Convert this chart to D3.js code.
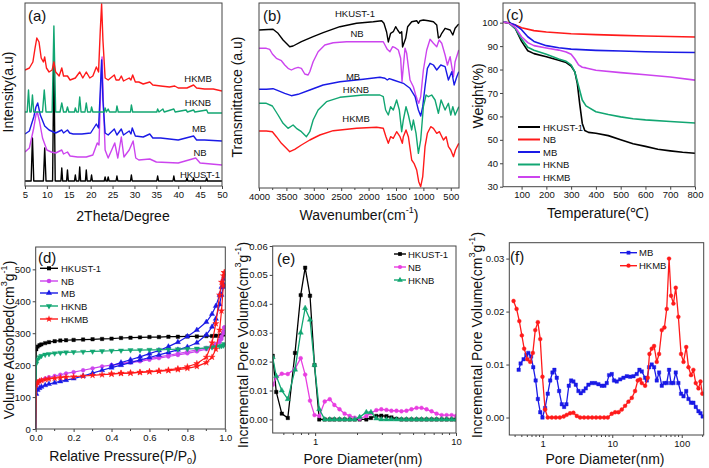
<!DOCTYPE html>
<html><head><meta charset="utf-8">
<script src="https://cdn.jsdelivr.net/npm/d3@7"></script>
<style>
body{margin:0;background:#fff}
text{font-family:"Liberation Sans",Arial,sans-serif;fill:#111}
</style></head>
<body><svg id="c" width="709" height="468"></svg>
<script>
// ---------------- DATA ----------------
// (a) XRD: [2theta, intensity a.u.]
const xrdHKMB=[[5,113],[6,115],[6.8,121],[7.3,135],[7.7,145],[8.2,141],[8.7,125],[9.2,121],[9.5,126],[9.9,115],[10.5,111],[11.2,113],[11.6,121],[12,111],[12.8,107],[13.4,115],[13.8,107],[14.7,107],[15.3,103],[16.5,105],[17.5,111],[18.2,105],[19,111],[19.8,105],[20.5,107],[21.3,116],[21.8,111],[22.2,153],[22.5,179],[22.8,143],[23.3,105],[24,103],[25.4,108],[25.8,103],[26.5,103],[27,107],[27.5,102],[28.8,105],[29.2,103],[29.6,108],[30.2,101],[31,101],[32,99],[33.5,101],[34.2,98],[36,97],[38,96],[39.2,97],[40,95],[42,95],[43.5,98],[44.2,95],[46,94],[48,94],[50,92]];
const xrdHKNB=[[5,71],[5.5,71],[5.8,93],[6.1,71],[6.4,71],[6.7,88],[7,71],[9,71],[9.4,93],[9.8,71],[11.2,71],[11.6,157],[12,71],[13,71],[13.4,80],[13.8,71],[14.4,71],[14.7,76],[15,71],[16.3,71],[16.5,75],[16.8,71],[17.2,71],[17.5,86],[17.8,71],[18.7,71],[19,80],[19.3,71],[20,71],[20.2,76],[20.5,71],[23.1,71],[23.3,75],[23.6,71],[24,74],[24.3,71],[25.8,71],[26,77],[26.3,71],[29.1,71],[29.3,78],[29.6,71],[35.1,71],[35.3,74],[35.6,71],[36.5,74],[36.8,71],[39,74],[39.3,71],[41.8,73],[42.1,71],[43.5,73],[43.8,71],[46.5,73],[46.8,70],[50,70]];
const xrdMB=[[5,49],[6,52],[7,66],[7.5,76],[7.9,80],[8.5,68],[9.5,57],[10.5,53],[12,50],[13.4,53],[13.8,50],[14.7,53],[15.2,50],[16,49],[18,49],[20,50],[21.3,59],[21.8,55],[22.2,93],[22.5,123],[22.8,83],[23.3,50],[24,48],[25.4,54],[26,48],[27,54],[27.5,48],[28.8,52],[29.2,49],[29.5,55],[30.2,47],[32,46],[33.5,49],[34.2,45],[36,45],[38,44],[40,43],[43.5,47],[44.2,43],[46,43],[50,42]];
const xrdNB=[[5,31],[6,35],[7,55],[7.5,68],[7.8,71],[8.3,62],[9,45],[10,33],[11,31],[12,30],[13.4,33],[13.8,29],[14.7,31],[15.3,27],[17,26],[19,26],[20.5,28],[21.5,40],[21.9,38],[22.3,95],[22.6,126],[22.9,80],[23.3,33],[24,25],[25.5,40],[26.2,25],[27,46],[27.6,26],[28.8,33],[29.7,42],[30.3,25],[31,23],[33.5,24],[35,21],[40,20],[44,25],[45,20],[50,18]];
const xrdHK=[[5,2],[6.4,2],[6.7,45],[7,2],[9.2,2],[9.5,35],[9.8,2],[11.3,2],[11.6,123],[11.9,2],[13.2,2],[13.4,15],[13.6,2],[14.5,2],[14.7,13],[14.9,2],[16.3,2],[16.5,8],[16.7,2],[17.3,2],[17.5,16],[17.7,2],[18.8,2],[19,13],[19.2,2],[20,2],[20.2,8],[20.4,2],[23.1,2],[23.3,6],[23.5,2],[23.8,2],[24,6],[24.2,2],[25.8,2],[26,7],[26.2,2],[29.1,2],[29.3,8],[29.5,2],[35.1,2],[35.3,7],[35.5,2],[38.8,2],[39,7],[39.2,2],[41.8,2],[42,5],[42.2,2],[43.3,2],[43.5,5],[43.7,2],[46.3,2],[46.5,5],[46.7,2],[50,2]];

// (b) FTIR: [wavenumber, transmittance a.u.]
const irHK=[[4000,158],[3744,158.7],[3652,154.7],[3561,148],[3439,141.3],[3378,142],[3226,146.3],[3012,151.3],[2829,155.3],[2524,161.3],[2220,164.7],[1915,166.3],[1762,167.3],[1720,164.7],[1671,156],[1640,146],[1598,154.7],[1549,156.3],[1506,161.3],[1470,158],[1427,154.7],[1396,156.3],[1380,141],[1323,149.7],[1287,161.3],[1213,166.3],[1122,167.3],[1091,164.7],[1061,167.3],[1000,168],[909,167.3],[817,166.3],[756,163],[726,150],[695,151.3],[665,154.7],[604,159.7],[512,158],[463,153],[421,159.7],[354,164]];
const irNB=[[4000,139.7],[3866,139.7],[3805,138.7],[3756,134],[3683,129.7],[3591,127.3],[3530,123],[3470,119.7],[3409,118],[3348,119.7],[3287,120.7],[3226,119.7],[3165,114],[3104,113],[3073,116.3],[3012,126.3],[2921,136.3],[2799,143],[2646,145.3],[2402,146.3],[2098,146.3],[1854,146.3],[1732,146.3],[1701,143],[1659,138.7],[1610,136.3],[1561,141.3],[1518,140.3],[1457,138],[1415,129.7],[1390,106.3],[1366,121.3],[1335,139.7],[1305,134.7],[1244,108],[1183,101.3],[1140,93],[1110,88],[1085,84.7],[1049,91.3],[1000,118],[939,138],[878,148.7],[817,144.7],[756,141.3],[713,148],[665,144.7],[604,133],[561,123],[512,131.3],[482,121.3],[451,111.3],[421,126.3],[354,138]];
const irMB=[[4000,98.7],[3866,98.7],[3744,99.3],[3652,97.3],[3530,94.7],[3409,92.3],[3287,93.7],[3073,98],[2829,103],[2524,106.3],[2098,108.7],[1793,110.7],[1701,109.7],[1659,108],[1622,109.3],[1549,108],[1366,104.7],[1244,99.7],[1152,91.3],[1091,78],[1049,72],[1012,81.3],[970,101.3],[927,119.7],[878,124.7],[817,123],[756,118],[683,123],[604,121.3],[543,108],[482,116.3],[439,103],[390,111.3],[354,116.3]];
const irHKNB=[[4000,84.7],[3866,84.7],[3756,82],[3652,73],[3561,64.7],[3470,59.7],[3378,63],[3317,59.7],[3226,56.3],[3134,51.3],[3073,56.3],[3012,68],[2921,78],[2768,86.3],[2524,90.7],[2098,93],[1793,93],[1732,91.3],[1689,78],[1640,73],[1598,81.3],[1549,78],[1488,88],[1439,78],[1396,56.3],[1366,68],[1317,81.3],[1274,73],[1213,58],[1183,68],[1134,54.7],[1091,34.7],[1049,48],[1000,81.3],[951,93],[909,91.3],[848,93],[787,88],[726,74.7],[677,88],[604,78],[543,84.7],[500,73],[463,81.3],[421,73],[354,81.3]];
const irHKMB=[[4000,57],[3866,57],[3756,56.3],[3683,51.3],[3591,44.7],[3500,39.7],[3439,36.3],[3348,38.7],[3226,43],[3073,48],[2890,53],[2646,57.3],[2220,59.7],[1854,60.7],[1732,59.7],[1683,51.3],[1640,44.7],[1598,51.3],[1549,49.7],[1488,56.3],[1427,51.3],[1384,44.7],[1366,51.3],[1317,58],[1274,51.3],[1213,28],[1171,24.7],[1122,18],[1085,6.3],[1049,1.3],[1012,11.3],[970,41.3],[927,54.7],[866,61.3],[817,59.7],[756,54.7],[707,56.3],[634,48],[585,51.3],[543,41.3],[500,38],[451,31.3],[415,38],[354,44.7]];

// (c) TGA: temperature and weight (%)
const tgaT_HK=[25,50,75,100,125,150,200,250,280,300,315,325,335,345,355,370,400,450,500,550,600,650,700,750,800];
const tgaW_HK=[100.3,99.8,97.5,92,88,86.8,85.5,84,83,81.5,79,74,65,57,54,53.2,52.8,51.8,50,48.3,47.2,46,45.3,44.7,44.3];
const tgaT_NB=[25,50,75,100,150,200,300,400,500,600,700,800];
const tgaW_NB=[100.2,99.8,99,97.8,96.6,96,95.3,94.9,94.6,94.3,94.1,93.9];
const tgaT_MB=[25,50,75,100,125,150,200,250,300,400,500,600,700,800];
const tgaW_MB=[100.3,100,99,97,94,92,90.2,89.3,88.7,88.2,87.9,87.6,87.4,87.3];
const tgaT_HKNB=[25,50,75,100,125,150,200,250,280,300,315,330,345,360,400,450,500,550,600,700,800];
const tgaW_HKNB=[100.3,99.8,97.5,93,89.5,88.2,86.5,84.5,83.5,82,79,73,67,64.5,62,60.8,59.8,59,58.5,57.8,57.2];
const tgaT_HKMB=[25,50,75,100,125,150,200,250,280,300,315,330,345,360,400,500,600,700,800];
const tgaW_HKMB=[100.3,99.8,98,94,91.5,90.2,89.2,88.3,87.5,86.5,84.5,82,81,80.7,79.7,78.7,77.8,76.8,75.5];

// (d) N2 isotherms: relative pressure and volume adsorbed
const pAds=[0,0.003,0.01,0.02,0.03,0.05,0.07,0.1,0.13,0.16,0.2,0.25,0.3,0.35,0.4,0.45,0.5,0.55,0.6,0.65,0.7,0.75,0.8,0.85,0.9,0.93,0.95,0.97,0.98,0.99,0.995];
const adsHK=[0,250,258,262,265,269,272,275,277,278,279,280,281,282,283,285,286,287,288,288,289,289,290,290,291,291,292,292,293,296,305];
const adsNB=[0,138,146,150,153,158,162,166,170,174,178,184,190,196,200,204,208,212,217,222,227,232,237,243,250,256,262,272,282,300,318];
const adsMB=[0,110,122,128,132,137,141,145,149,153,158,166,175,184,192,200,208,216,224,232,240,248,257,270,295,320,345,390,420,445,450];
const adsHKNB=[0,205,218,225,229,233,235,237,239,240,241,242,243,244,245,246,247,247,248,248,249,250,251,252,254,256,257,259,260,262,266];
const adsHKMB=[0,138,146,150,152,155,157,159,161,163,164,166,168,170,172,174,175,177,179,181,183,186,190,196,208,225,250,310,370,450,490];
const pDes=[0.995,0.99,0.98,0.97,0.95,0.93,0.9,0.85,0.8,0.75,0.7,0.65,0.6,0.55,0.5,0.45,0.4];
const desNB=[318,305,290,278,266,260,254,248,242,236,231,226,221,215,210,205,200];
const desMB=[480,470,445,420,385,360,335,310,290,272,258,246,236,226,217,208,198];
const desHKMB=[490,480,460,420,330,270,225,205,195,189,185,182,180,178,176,175,173];

// (e) pore size distribution (nm, cm3/g)
const poreE=[0.50,0.53,0.58,0.64,0.72,0.79,0.85,0.92,0.99,1.07,1.17,1.27,1.37,1.49,1.62,1.76,1.91,2.07,2.31,2.49,2.72,2.95,3.21,3.48,3.78,4.10,4.45,4.83,5.25,5.69,6.18,6.71,7.28,7.91,8.58,9.31,10.0];
const psdHK=[.0220,.0095,.0020,.0005,.0230,.0430,.0525,.0428,.0188,0,0,0,0,0,0,0,0,0,0,.0005,.0012,.0013,.0011,.0007,.0002,0,0,0,0,0,0,0,0,0,0,0,0];
const psdNB=[.0120,.0145,.0158,.0157,.0175,.0212,.0155,.0065,.0015,.0012,.0062,.0070,.0050,.0035,.0020,.0012,.0006,.0002,.0012,.0022,.0032,.0035,.0033,.0030,.0030,.0028,.0030,.0035,.0040,.0040,.0035,.0028,.0020,.0015,.0015,.0015,.0012];
const psdHKNB=[.0215,.0150,.0100,.0070,.0172,.0300,.0385,.0345,.0188,.0035,0,0,0,0,0,0,0,.0008,.0025,.0025,.0003,0,0,0,0,0,0,0,0,0,0,0,0,0,0,0,0];

// (f) pore size distribution (nm, cm3/g)
const poreMB=[0.45,0.48,0.53,0.58,0.62,0.68,0.73,0.79,0.85,0.92,0.99,1.08,1.18,1.28,1.38,1.47,1.59,1.72,1.88,2.03,2.19,2.37,2.56,2.76,2.99,3.26,3.52,3.85,4.16,4.54,5.07,5.66,6.32,7.06,7.71,8.33,9.0,9.84,10.6,11.6,13.0,14.5,16.2,18.1,20.2,22.5,24.6,26.6,29.7,31.4,33.9,37.0,40.0,43.7,47.2,51.6,56.3,60.8,65.7,70.2,75.9,82.0,89.5,97.8,106,116,125,136,147,159,174,186,200];
const psdMB=[.0090,.0102,.0110,.0118,.0122,.0115,.0095,.0070,.0035,.0010,.0000,.0018,.0045,.0070,.0085,.0090,.0075,.0050,.0025,.0020,.0025,.0060,.0070,.0068,.0062,.0050,.0046,.0050,.0055,.0062,.0065,.0065,.0063,.0060,.0060,.0065,.0080,.0082,.0070,.0068,.0072,.0075,.0078,.0077,.0078,.0082,.0090,.0087,.0075,.0070,.0095,.0100,.0095,.0070,.0085,.0060,.0065,.0065,.0090,.0065,.0065,.0085,.0065,.0045,.0040,.0050,.0035,.0028,.0028,.0020,.0012,.0008,.0002];
const poreHKMB=[0.38,0.42,0.46,0.50,0.54,0.60,0.66,0.72,0.78,0.85,0.92,0.99,1.08,1.18,1.35,1.54,1.76,2.0,2.21,2.47,2.76,3.09,3.45,3.93,4.49,5.13,5.85,6.68,7.63,8.62,9.84,11.0,12.3,13.7,15.3,17.1,19.1,21.3,23.3,25.2,26.6,29.7,32.4,34.3,37.0,40.0,43.7,47.2,51.6,56.3,60.8,65.7,70.2,75.9,82.0,89.5,97.8,106,116,125,136,147,159,174,186,198];
const psdHKMB=[.0220,.0205,.0182,.0155,.0130,.0110,.0105,.0122,.0165,.0180,.0148,.0077,.0015,0,0,0,0,.0002,.0005,.0008,.0009,.0003,0,0,0,0,0,0,0,0,.0007,.0010,.0010,.0015,.0022,.0030,.0037,.0050,.0070,.0072,.0065,.0060,.0075,.0120,.0130,.0135,.0105,.0120,.0165,.0170,.0205,.0300,.0230,.0215,.0245,.0190,.0120,.0105,.0133,.0095,.0080,.0090,.0065,.0055,.0068,.0045];

// tick labels
const ticksA=[5,10,15,20,25,30,35,40,45,50];
const ticksB=[4000,3500,3000,2500,2000,1500,1000,500];
const ticksCx=[100,200,300,400,500,600,700,800];
const ticksCy=[30,40,50,60,70,80,90,100];
const ticksDx=[0,0.2,0.4,0.6,0.8,1.0];
const ticksDy=[0,100,200,300,400,500];
const ticksEy=[0,0.01,0.02,0.03,0.04,0.05,0.06];
const ticksFy=[0,0.01,0.02,0.03];

// ---------------- DRAW ----------------
const C={black:"#000000",red:"#ff1a1a",blue:"#1a1ae6",green:"#12a672",mag:"#cc44ee",pink:"#e83ee0"};
const TF=9.5;
const svg=d3.select("#c");
let clipId=0;
function panel(x,y){
  const [x0,x1]=x.range(), [y1,y0]=y.range();
  const g=svg.append("g");
  const id="clip"+(clipId++);
  svg.append("clipPath").attr("id",id).append("rect").attr("x",x0).attr("y",y0).attr("width",x1-x0).attr("height",y1-y0);
  const plot=g.append("g").attr("clip-path","url(#"+id+")");
  return {g,plot,x0,x1,y0,y1};
}
function frameRect(p){
  p.g.append("rect").attr("x",p.x0).attr("y",p.y0).attr("width",p.x1-p.x0).attr("height",p.y1-p.y0)
   .attr("fill","none").attr("stroke","#444").attr("stroke-width",1);
}
function xAxis(p,x,ticks,fmt,minor){
  const a=d3.axisBottom(x).tickValues(ticks).tickSize(3).tickPadding(2).tickFormat(fmt);
  const ax=p.g.append("g").attr("transform","translate(0,"+p.y1+")").call(a);
  ax.select(".domain").remove();
  ax.selectAll("line").attr("stroke","#444");
  ax.selectAll("text").attr("font-size",TF).attr("fill","#111").attr("font-family","Liberation Sans, Arial, sans-serif");
  if(minor){
    p.g.append("g").selectAll("line").data(minor).join("line")
     .attr("x1",d=>x(d)).attr("x2",d=>x(d)).attr("y1",p.y1).attr("y2",p.y1+2).attr("stroke","#444");
  }
}
function yAxis(p,y,ticks,fmt){
  const a=d3.axisLeft(y).tickValues(ticks).tickSize(3).tickPadding(2).tickFormat(fmt);
  const ax=p.g.append("g").attr("transform","translate("+p.x0+",0)").call(a);
  ax.select(".domain").remove();
  ax.selectAll("line").attr("stroke","#444");
  ax.selectAll("text").attr("font-size",TF).attr("fill","#111").attr("font-family","Liberation Sans, Arial, sans-serif");
}
function title(x,y,parts,rot,size){
  const t=svg.append("text").attr("x",x).attr("y",y).attr("text-anchor","middle")
    .attr("dominant-baseline","central").attr("font-size",size||14);
  if(rot) t.attr("transform","rotate(-90,"+x+","+y+")");
  parts.forEach(pp=>{
    if(typeof pp==="string") t.append("tspan").text(pp);
    else t.append("tspan").attr("baseline-shift",pp.sup?"super":"sub").attr("font-size",(size||14)*0.65).text(pp.t);
  });
  return t;
}
function label(x,y,s,size,anchor){
  svg.append("text").attr("x",x).attr("y",y).attr("text-anchor",anchor||"middle").attr("dominant-baseline","central")
   .attr("font-size",size||10).text(s);
}
function drawLine(p,x,y,pts,color,w){
  p.plot.append("path").datum(pts).attr("fill","none").attr("stroke",color).attr("stroke-width",w||1.4)
   .attr("stroke-linejoin","round").attr("d",d3.line().x(d=>x(d[0])).y(d=>y(d[1])));
}
function drawMarkers(p,x,y,pts,color,sym,size,rot){
  p.plot.append("g").selectAll("path").data(pts).join("path")
   .attr("transform",d=>"translate("+x(d[0])+","+y(d[1])+")"+(rot?" rotate("+rot+")":""))
   .attr("d",d3.symbol().type(sym).size(size||12)).attr("fill",color).attr("stroke",color).attr("stroke-width",0.4);
}
const zip=(a,b)=>a.map((v,i)=>[v,b[i]]);

// ---- (a) ----
{
  const x=d3.scaleLinear().domain([5,50]).range([25,222]);
  const y=d3.scaleLinear().domain([-3,180]).range([186,3]);
  const p=panel(x,y);
  drawLine(p,x,y,xrdHK,C.black);
  drawLine(p,x,y,xrdNB,C.mag);
  drawLine(p,x,y,xrdMB,C.blue);
  drawLine(p,x,y,xrdHKNB,C.green);
  drawLine(p,x,y,xrdHKMB,C.red);
  frameRect(p);
  xAxis(p,x,ticksA,d3.format("d"),null);
  label(198,78,"HKMB",9.5); label(198,102,"HKNB",9.5); label(199,128,"MB",9.5); label(200,152,"NB",9.5); label(200,174,"HKUST-1",9.5);
  label(28,15,"(a)",15,"start");
  title(123,216,["2Theta/Degree"]);
  title(8,92,["Intensity(a.u)"],true);
}
// ---- (b) ----
{
  const x=d3.scaleLinear().domain([4000,350]).range([259,459]);
  const y=d3.scaleLinear().domain([0,185]).range([188,3]);
  const p=panel(x,y);
  drawLine(p,x,y,irHK,C.black);
  drawLine(p,x,y,irNB,C.mag);
  drawLine(p,x,y,irMB,C.blue);
  drawLine(p,x,y,irHKNB,C.green);
  drawLine(p,x,y,irHKMB,C.red);
  frameRect(p);
  xAxis(p,x,ticksB,d3.format("d"),[3750,3250,2750,2250,1750,1250,750]);
  label(355,13,"HKUST-1",9.5); label(357,33,"NB",9.5); label(353,76,"MB",9.5); label(356,89,"HKNB",9.5); label(356,118,"HKMB",9.5);
  label(263,15,"(b)",15,"start");
  title(359,215,["Wavenumber(cm",{t:"-1",sup:1},")"]);
  title(237,97,["Transmittance (a.u)"],true);
}
// ---- (c) ----
{
  const x=d3.scaleLinear().domain([25,800]).range([503,695]);
  const y=d3.scaleLinear().domain([30,108.4]).range([186.7,3]);
  const p=panel(x,y);
  const S=[[tgaT_HK,tgaW_HK,C.black,"HKUST-1"],[tgaT_NB,tgaW_NB,C.red,"NB"],[tgaT_MB,tgaW_MB,C.blue,"MB"],[tgaT_HKNB,tgaW_HKNB,C.green,"HKNB"],[tgaT_HKMB,tgaW_HKMB,C.mag,"HKMB"]];
  S.forEach(s=>drawLine(p,x,y,zip(s[0],s[1]),s[2],1.6));
  frameRect(p);
  xAxis(p,x,ticksCx,d3.format("d"),null);
  yAxis(p,y,ticksCy,d3.format("d"));
  const ly=[127,139.5,152,164.5,177];
  S.forEach((s,i)=>{svg.append("line").attr("x1",518).attr("x2",540).attr("y1",ly[i]).attr("y2",ly[i]).attr("stroke",s[2]).attr("stroke-width",2);
    label(543,ly[i],s[3],9.5,"start");});
  label(506,14,"(c)",15,"start");
  title(598,213,["Temperature(℃)"]);
  title(478,96,["Weight(%)"],true);
}
// ---- (d) ----
{
  const x=d3.scaleLinear().domain([0,1]).range([35.7,225.3]);
  const y=d3.scaleLinear().domain([0,570]).range([429,247]);
  const p=panel(x,y);
  const S=[[adsHK,null,C.black,d3.symbolSquare,"HKUST-1",0],[adsNB,desNB,C.mag,d3.symbolCircle,"NB",0],[adsMB,desMB,C.blue,d3.symbolTriangle,"MB",0],[adsHKNB,null,C.green,d3.symbolTriangle,"HKNB",180],[adsHKMB,desHKMB,C.red,d3.symbolStar,"HKMB",0]];
  S.forEach(s=>{
    const a=zip(pAds,s[0]);
    drawLine(p,x,y,a,s[2],1.2);
    drawMarkers(p,x,y,a.slice(1),s[2],s[3],12,s[5]);
    if(s[1]){const d=zip(pDes,s[1]); drawLine(p,x,y,d,s[2],1.2); drawMarkers(p,x,y,d,s[2],s[3],12,s[5]);}
  });
  frameRect(p);
  xAxis(p,x,ticksDx,d3.format(".1f"),[0.1,0.3,0.5,0.7,0.9]);
  yAxis(p,y,ticksDy,d3.format("d"));
  const ly=[268.3,281,293,306,319];
  S.forEach((s,i)=>{svg.append("line").attr("x1",40).attr("x2",58).attr("y1",ly[i]).attr("y2",ly[i]).attr("stroke",s[2]).attr("stroke-width",1.4);
    svg.append("path").attr("transform","translate(49,"+ly[i]+") rotate("+s[5]+")").attr("d",d3.symbol().type(s[3]).size(16)).attr("fill",s[2]);
    label(61,ly[i],s[4],9.5,"start");});
  label(38,257,"(d)",15,"start");
  title(123,456,["Relative Pressure(P/P",{t:"0",sup:0},")"]);
  title(9,340,["Volume Adsorbed(cm",{t:"3",sup:1},"g",{t:"-1",sup:1},")"],true);
}
// ---- (e) ----
{
  const x=d3.scaleLog().domain([0.5,10]).range([272.7,456]);
  const y=d3.scaleLinear().domain([-0.0047,0.06]).range([433,246]);
  const p=panel(x,y);
  const S=[[psdHK,C.black,d3.symbolSquare,"HKUST-1"],[psdNB,C.pink,d3.symbolCircle,"NB"],[psdHKNB,C.green,d3.symbolTriangle,"HKNB"]];
  S.forEach(s=>{const a=zip(poreE,s[0]); drawLine(p,x,y,a,s[1],1.3); drawMarkers(p,x,y,a,s[1],s[2],12);});
  frameRect(p);
  xAxis(p,x,[1,10],d3.format("d"),[0.6,0.7,0.8,0.9,2,3,4,5,6,7,8,9]);
  yAxis(p,y,ticksEy,d3.format(".2f"));
  const ly=[254,267,280];
  S.forEach((s,i)=>{svg.append("line").attr("x1",394).attr("x2",406).attr("y1",ly[i]).attr("y2",ly[i]).attr("stroke",s[1]).attr("stroke-width",1.4);
    svg.append("path").attr("transform","translate(400,"+ly[i]+")").attr("d",d3.symbol().type(s[2]).size(14)).attr("fill",s[1]);
    label(408,ly[i],s[3],9.5,"start");});
  label(277,258,"(e)",15,"start");
  title(363,459,["Pore Diameter(nm)"]);
  title(243,345,["Incremental Pore Volume(cm",{t:"3",sup:1},"g",{t:"-1",sup:1},")"],true);
}
// ---- (f) ----
{
  const x=d3.scaleLog().domain([0.33,207]).range([509.3,703.7]);
  const y=d3.scaleLinear().domain([-0.0033,0.033]).range([435,242.7]);
  const p=panel(x,y);
  const S=[[poreMB,psdMB,C.blue,d3.symbolSquare,"MB"],[poreHKMB,psdHKMB,C.red,d3.symbolCircle,"HKMB"]];
  S.forEach(s=>{const a=zip(s[0],s[1]); drawLine(p,x,y,a,s[2],1.3); drawMarkers(p,x,y,a,s[2],s[3],12);});
  frameRect(p);
  xAxis(p,x,[1,10,100],d3.format("d"),[0.4,0.5,0.6,0.7,0.8,0.9,2,3,4,5,6,7,8,9,20,30,40,50,60,70,80,90,200]);
  yAxis(p,y,ticksFy,d3.format(".2f"));
  const ly=[252.7,265.7];
  S.forEach((s,i)=>{svg.append("line").attr("x1",620).attr("x2",637).attr("y1",ly[i]).attr("y2",ly[i]).attr("stroke",s[2]).attr("stroke-width",1.4);
    svg.append("path").attr("transform","translate(628.5,"+ly[i]+")").attr("d",d3.symbol().type(s[3]).size(14)).attr("fill",s[2]);
    label(639,ly[i],s[4],9.5,"start");});
  label(510,256,"(f)",15,"start");
  title(605,459,["Pore Diameter(nm)"]);
  title(477,335,["Incremental Pore Volume(cm",{t:"3",sup:1},"g",{t:"-1",sup:1},")"],true);
}
</script></body></html>
